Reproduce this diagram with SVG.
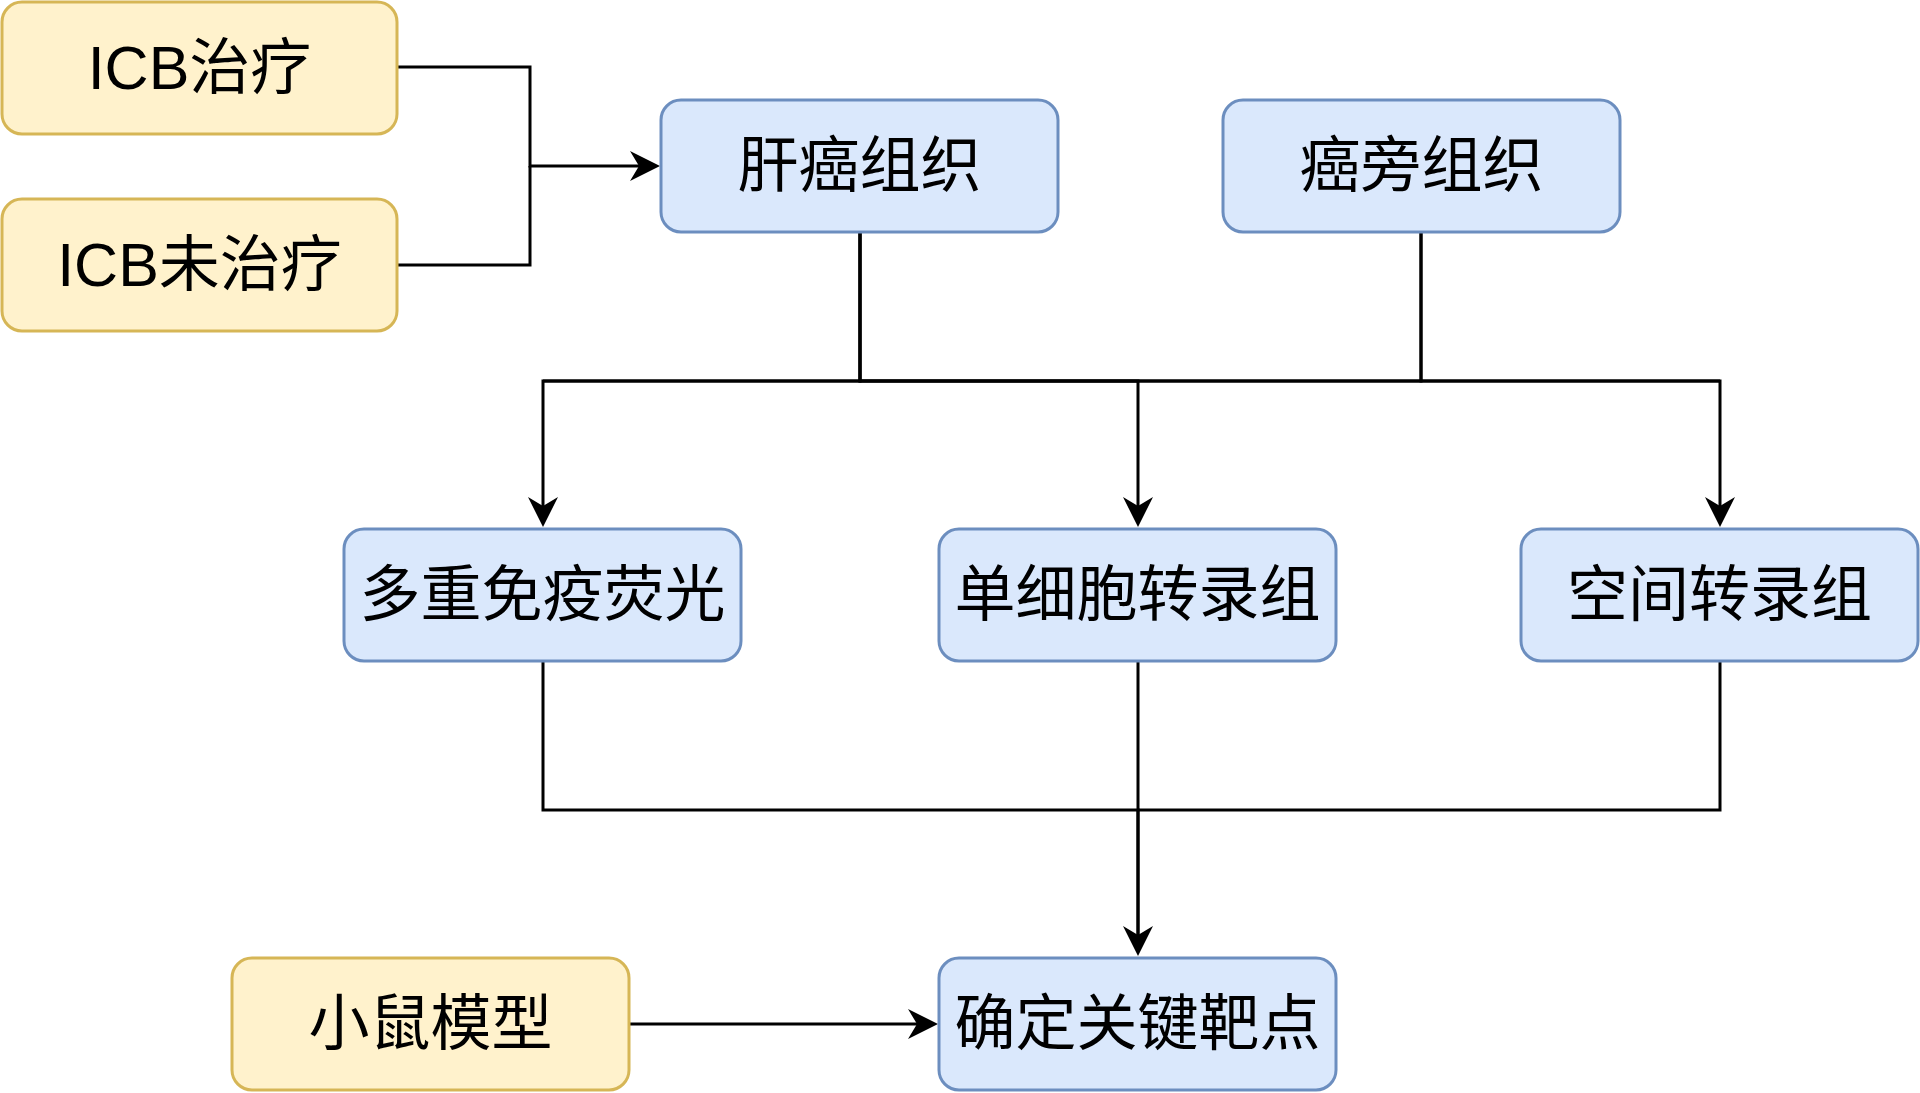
<svg xmlns="http://www.w3.org/2000/svg" width="1920" height="1093" viewBox="0 0 1920 1093">
<style>
.blue{fill:#dae8fc;stroke:#6c8ebf;stroke-width:3}
.yel{fill:#fff2cc;stroke:#d6b656;stroke-width:3}
.lbl{font-family:"Liberation Sans","Noto Sans CJK SC",sans-serif;font-size:61px;fill:#000;text-anchor:middle;dominant-baseline:central}
.e{fill:none;stroke:#000;stroke-width:3}
</style>
<defs>
<marker id="arr" markerUnits="userSpaceOnUse" markerWidth="30" markerHeight="30" viewBox="0 0 30 30" refX="10" refY="15" orient="auto">
<path d="M0,0 L30,15 L0,30 L9,15 Z" fill="#000"/>
</marker>
</defs>
<rect width="1920" height="1093" fill="#fff"/>
<g id="connectors">
<path class="e" d="M397,67 H530 V166 H640" marker-end="url(#arr)"/>
<path class="e" d="M397,265 H530 V166"/>
<path class="e" d="M860,233 V381 H543 V507" marker-end="url(#arr)"/>
<path class="e" d="M860,233 V381 H1138 V507" marker-end="url(#arr)"/>
<path class="e" d="M860,233 V381 H1720 V507" marker-end="url(#arr)"/>
<path class="e" d="M1421,233 V381 H543"/>
<path class="e" d="M1421,233 V381 H1720"/>
<path class="e" d="M543,662 V810 H1138 V936" marker-end="url(#arr)"/>
<path class="e" d="M1138,662 V936"/>
<path class="e" d="M1720,662 V810 H1138"/>
<path class="e" d="M629,1024 H918" marker-end="url(#arr)"/>
</g>
<g id="n-icb-treated"><rect class="yel" x="2" y="2" width="395" height="132" rx="20"/><text class="lbl" x="199.5" y="68">ICB治疗</text></g>
<g id="n-icb-untreated"><rect class="yel" x="2" y="199" width="395" height="132" rx="20"/><text class="lbl" x="199.5" y="265">ICB未治疗</text></g>
<g id="n-liver-cancer"><rect class="blue" x="661" y="100" width="397" height="132" rx="20"/><text class="lbl" x="859.5" y="166">肝癌组织</text></g>
<g id="n-adjacent"><rect class="blue" x="1223" y="100" width="397" height="132" rx="20"/><text class="lbl" x="1421.5" y="166">癌旁组织</text></g>
<g id="n-mif"><rect class="blue" x="344" y="529" width="397" height="132" rx="20"/><text class="lbl" x="542.5" y="595">多重免疫荧光</text></g>
<g id="n-scrna"><rect class="blue" x="939" y="529" width="397" height="132" rx="20"/><text class="lbl" x="1137.5" y="595">单细胞转录组</text></g>
<g id="n-spatial"><rect class="blue" x="1521" y="529" width="397" height="132" rx="20"/><text class="lbl" x="1719.5" y="595">空间转录组</text></g>
<g id="n-mouse"><rect class="yel" x="232" y="958" width="397" height="132" rx="20"/><text class="lbl" x="430.5" y="1024">小鼠模型</text></g>
<g id="n-target"><rect class="blue" x="939" y="958" width="397" height="132" rx="20"/><text class="lbl" x="1137.5" y="1024">确定关键靶点</text></g>
</svg>
